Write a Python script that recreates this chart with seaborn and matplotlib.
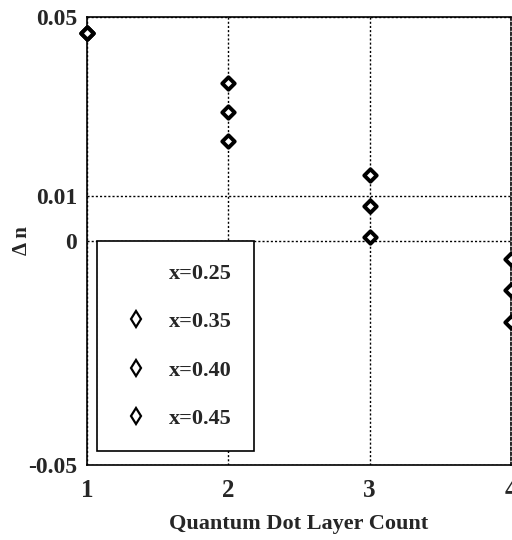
import matplotlib
matplotlib.use("Agg")
import matplotlib.pyplot as plt
from matplotlib.lines import Line2D
import seaborn as sns
import pandas as pd

# Refractive-index change versus number of quantum dot layers
layers = [1, 2, 3, 4]
dn_035 = [0.0464, 0.0353, 0.0147, -0.0040]
dn_040 = [0.0464, 0.0288, 0.0078, -0.0109]
dn_045 = [0.0464, 0.0223, 0.0009, -0.0181]
series_labels = ["x=0.25", "x=0.35", "x=0.40", "x=0.45"]
y_ticks = [-0.05, 0, 0.01, 0.05]
y_tick_labels = ["-0.05", "0", "0.01", "0.05"]
x_ticks = [1, 2, 3, 4]

sns.set_theme(style="white")
plt.rcParams["font.family"] = ["Liberation Serif", "DejaVu Serif"]
plt.rcParams["font.weight"] = "bold"

df = pd.concat([
    pd.DataFrame({"layers": layers, "dn": vals, "series": lab})
    for vals, lab in zip([dn_035, dn_040, dn_045], series_labels[1:])
])

fig = plt.figure(figsize=(5.12, 5.40), dpi=100)
ax = fig.add_axes([87 / 512, 75 / 540, 424 / 512, 448 / 540])

sns.scatterplot(data=df, x="layers", y="dn", marker="D", s=40,
                color="white", edgecolor="black", linewidth=2.8,
                legend=False, ax=ax, zorder=5, clip_on=False)

ax.set_xlim(1, 4)
ax.set_ylim(-0.05, 0.05)
ax.set_xticks(x_ticks)
ax.set_xticklabels([str(t) for t in x_ticks])
ax.set_yticks(y_ticks)
ax.set_yticklabels(y_tick_labels)
ax.tick_params(axis="y", length=0, labelsize=17, pad=7)
ax.tick_params(axis="x", length=0, labelsize=18, pad=10)
for lab in ax.get_xticklabels() + ax.get_yticklabels():
    lab.set_fontweight("bold")

ax.grid(True, color="black", linestyle=(0, (1.5, 1.5)), linewidth=1)
for sp in ax.spines.values():
    sp.set_color("black")
    sp.set_linewidth(1.2)
ax.spines["right"].set_linestyle((0, (1.5, 1.5)))

ax.set_xlabel("Quantum Dot Layer Count", fontsize=16, fontweight="bold")
ax.xaxis.set_label_coords(0.5, -0.11)
ax.set_ylabel("\u0394 n", fontsize=15, fontweight="bold")
ax.yaxis.set_label_coords(-0.13, 0.5)

handles = [Line2D([], [], linestyle="none", marker="none")]
handles += [Line2D([], [], linestyle="none", marker="d", markersize=8,
                   markerfacecolor="white", markeredgecolor="black",
                   markeredgewidth=1.6) for _ in range(3)]
leg = ax.legend(handles, series_labels, loc="lower left",
                bbox_to_anchor=(0.024, 0.031), borderaxespad=0,
                prop={"size": 16, "weight": "bold"},
                frameon=True, fancybox=False, labelspacing=1.25,
                handlelength=1.5, handletextpad=0.75, borderpad=1.0,
                edgecolor="black", framealpha=1)
leg.get_frame().set_linewidth(1.2)
leg.set_zorder(10)

fig.savefig("out.png", dpi=100)
